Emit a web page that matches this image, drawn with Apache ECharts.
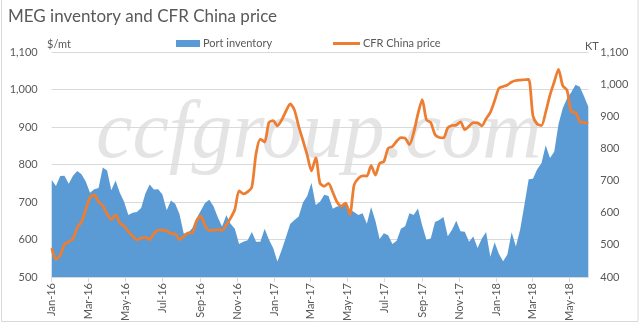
<!DOCTYPE html>
<html>
<head>
<meta charset="utf-8">
<script src="https://cdn.jsdelivr.net/npm/echarts@6/dist/echarts.min.js"></script>
<style>html,body{margin:0;padding:0;background:#fff}#c{width:641px;height:327px}</style>
</head>
<body>
<div id="c"></div>
<script>
// Weekly observations starting 1 Jan 2016
const startDate = '2016-01-01';
const weekCount = 127;
const tickMonths = ['2016-01','2016-03','2016-05','2016-07','2016-09','2016-11','2017-01','2017-03','2017-05','2017-07','2017-09','2017-11','2018-01','2018-03','2018-05'];
const monthNames = ['Jan','Feb','Mar','Apr','May','Jun','Jul','Aug','Sep','Oct','Nov','Dec'];
const leftTicks = { min: 500, max: 1100, step: 100 };
const rightTicks = { min: 400, max: 1100, step: 100 };

const cfrPrice = [
 577,547,558,587,594,602,632,647,680,712,
 719,700,690,668,653,666,644,636,621,609,
 599,604,606,600,616,625,625,623,616,615,
 600,608,618,617,650,663,637,624,625,627,
 624,639,657,680,730,722,727,740,830,868,
 860,912,917,903,919,942,962,945,902,864,
 825,783,818,750,742,750,726,700,689,697,
 667,745,763,770,769,797,772,803,808,843,
 848,862,872,870,853,885,935,973,919,912,
 880,872,871,898,904,905,914,893,902,912,
 911,903,922,939,970,1003,1008,1012,1020,1024,
 1025,1026,1027,930,908,904,940,985,1020,1054,
 1010,998,941,939,914,912,910
];
const portInventory = [
 702,683,714,715,690,715,730,720,697,662,
 673,677,741,731,670,700,662,634,593,600,
 602,615,660,688,672,673,657,608,638,628,
 596,535,537,552,582,606,630,640,620,586,
 557,592,566,550,503,510,514,540,510,510,
 550,517,490,448,484,524,565,577,588,632,
 652,693,624,634,656,652,612,619,622,632,
 610,602,593,598,566,618,575,518,536,530,
 503,513,550,558,598,593,613,560,516,520,
 571,577,587,527,547,575,542,541,510,526,
 490,520,540,463,508,472,449,470,539,495,
 548,625,704,706,735,754,810,770,790,875,
 925,955,975,998,992,962,930
];

const DAY = 86400000;
const t0 = Date.parse(startDate + 'T00:00:00Z');
const weekDates = [];
for (let i = 0; i < weekCount; i++) weekDates.push(t0 + i * 7 * DAY);
const tickValues = tickMonths.map(m => Date.parse(m + '-01T00:00:00Z'));

const priceData = weekDates.map((d, i) => [d, cfrPrice[i]]);
const invData = weekDates.map((d, i) => [d, portInventory[i]]);

const FONT = 'Lato';
const TXT = '#595959';

const chart = echarts.init(document.getElementById('c'), null, { renderer: 'canvas' });
chart.setOption({
  animation: false,
  backgroundColor: '#fff',
  textStyle: { fontFamily: FONT },
  title: {
    text: 'MEG inventory and CFR China price',
    left: 3, top: 3,
    textStyle: { fontFamily: FONT, fontSize: 17, fontWeight: 'normal', color: TXT }
  },
  legend: [
    {
      data: [{ name: 'Port inventory', icon: 'rect' }],
      left: 171, top: 33, itemWidth: 24, itemHeight: 7, itemGap: 5,
      textStyle: { fontFamily: FONT, fontSize: 11, color: TXT, padding: [0, 0, 0, -2] }
    },
    {
      data: [{ name: 'CFR China price', icon: 'rect' }],
      left: 328, top: 33, itemWidth: 27, itemHeight: 3,
      textStyle: { fontFamily: FONT, fontSize: 11, color: TXT, padding: [0, 0, 0, -2] }
    }
  ],
  grid: { left: 51.7, right: 52.7, top: 52, bottom: 50, containLabel: false },
  graphic: [
    {
      type: 'text', z: -10, left: 96, top: 94,
      style: { text: 'ccfgroup.com', fontFamily: 'Liberation Serif', fontStyle: 'italic', fontSize: 82, fill: '#e4e4e4' }
    },
    {
      type: 'text', left: 47, top: 39,
      style: { text: '$/mt', fontFamily: FONT, fontSize: 11, fill: TXT }
    },
    {
      type: 'text', left: 585, top: 41,
      style: { text: 'KT', fontFamily: FONT, fontSize: 11, fill: TXT }
    },
    {
      type: 'rect', z: -20, silent: true,
      shape: { x: 1.5, y: -2, width: 636.5, height: 323.5 },
      style: { fill: 'none', stroke: '#d9d9d9', lineWidth: 1 }
    }
  ],
  xAxis: {
    type: 'value',
    min: weekDates[0], max: weekDates[weekDates.length - 1],
    axisLine: { show: true, lineStyle: { color: '#d9d9d9', width: 1 } },
    axisTick: { show: true, customValues: tickValues, length: 5, lineStyle: { color: '#d9d9d9' } },
    splitLine: { show: false },
    axisLabel: {
      customValues: tickValues,
      rotate: 90, margin: 6,
      fontFamily: FONT, fontSize: 11, color: TXT,
      formatter: v => { const d = new Date(v); return monthNames[d.getUTCMonth()] + '-' + String(d.getUTCFullYear()).slice(2); }
    }
  },
  yAxis: [
    {
      type: 'value', min: leftTicks.min, max: leftTicks.max, interval: leftTicks.step,
      axisLine: { show: false }, axisTick: { show: false },
      splitLine: { lineStyle: { color: '#d9d9d9', width: 1 } },
      axisLabel: { margin: 14, fontFamily: FONT, fontSize: 11, color: TXT, formatter: v => v.toLocaleString('en-US') }
    },
    {
      type: 'value', min: rightTicks.min, max: rightTicks.max, interval: rightTicks.step,
      axisLine: { show: false }, axisTick: { show: false }, splitLine: { show: false },
      axisLabel: { margin: 12, fontFamily: FONT, fontSize: 11, color: TXT, formatter: v => v.toLocaleString('en-US') }
    }
  ],
  series: [
    {
      name: 'Port inventory', type: 'line', yAxisIndex: 1, data: invData,
      showSymbol: false, symbol: 'none', z: 2,
      lineStyle: { width: 0, color: '#5b9bd5' },
      itemStyle: { color: '#5b9bd5' },
      areaStyle: { color: '#5b9bd5', opacity: 1, origin: 'start' }
    },
    {
      name: 'CFR China price', type: 'line', yAxisIndex: 0, data: priceData,
      showSymbol: false, symbol: 'none', z: 3, smooth: 0.25,
      lineStyle: { width: 2.75, color: '#ed7d31' },
      itemStyle: { color: '#ed7d31' }
    }
  ]
});
</script>
</body>
</html>
